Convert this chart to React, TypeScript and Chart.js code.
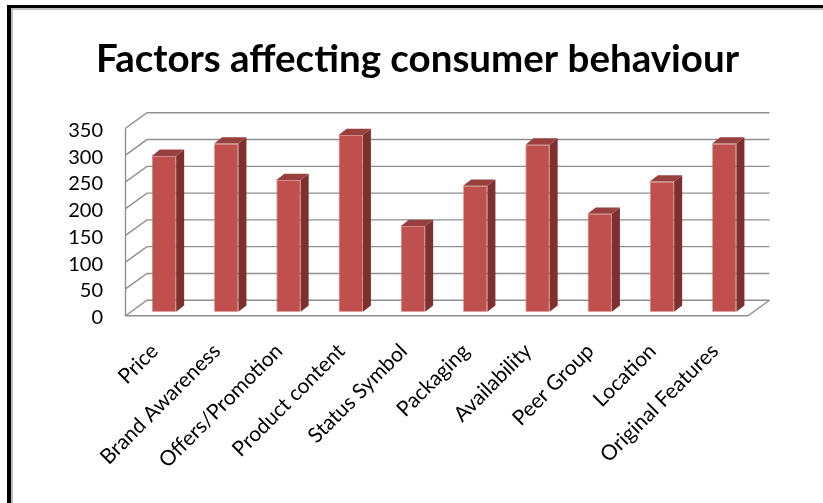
import React, { useEffect, useRef } from "react";
import { Chart, registerables } from "chart.js";

Chart.register(...registerables);

const TITLE = "Factors affecting consumer behaviour";
const categories = [
  "Price",
  "Brand Awareness",
  "Offers/Promotion",
  "Product content",
  "Status Symbol",
  "Packaging",
  "Availability",
  "Peer Group",
  "Location",
  "Original Features",
];
const values = [291, 314, 246, 330, 160, 235, 312, 183, 243, 314];
const yMin = 0;
const yMax = 350;
const yStep = 50;

const FRONT = "#C0504D";
const SIDE = "#7E302E";
const TOP = "#98403D";
const GRID = "#8F8F8F";

// wall depth (floor/back wall offset), bar placement inside depth, bar depth
const WALL_DX = 21.5;
const WALL_DY = -15.5;
const BAR_SHIFT_X = 7.4;
const BAR_SHIFT_Y = -4;
const BAR_DX = 8;
const BAR_DY = -6.3;

const depthPlugin = {
  id: "depth3d",
  beforeDatasetsDraw(chart: any) {
    const { ctx, chartArea: a, scales } = chart;
    const y = scales.y;
    ctx.save();
    ctx.strokeStyle = GRID;
    ctx.lineWidth = 1.4;
    ctx.lineCap = "butt";
    y.ticks.forEach((t: any) => {
      const py = y.getPixelForValue(t.value);
      ctx.beginPath();
      ctx.moveTo(a.left, py);
      ctx.lineTo(a.left + WALL_DX, py + WALL_DY);
      ctx.lineTo(a.right + WALL_DX, py + WALL_DY);
      ctx.stroke();
    });
    ctx.beginPath();
    ctx.moveTo(a.left, a.top);
    ctx.lineTo(a.left, a.bottom);
    ctx.lineTo(a.right, a.bottom);
    ctx.lineTo(a.right + WALL_DX, a.bottom + WALL_DY);
    ctx.stroke();
    ctx.restore();
    ctx.save();
    ctx.translate(BAR_SHIFT_X, BAR_SHIFT_Y);
  },
  afterDatasetsDraw(chart: any) {
    const { ctx } = chart;
    const meta = chart.getDatasetMeta(0);
    meta.data.forEach((bar: any) => {
      const { x, y, base, width } = bar.getProps(["x", "y", "base", "width"], true);
      const l = x - width / 2;
      const r = x + width / 2;
      ctx.fillStyle = SIDE;
      ctx.beginPath();
      ctx.moveTo(r, y);
      ctx.lineTo(r + BAR_DX, y + BAR_DY);
      ctx.lineTo(r + BAR_DX, base + BAR_DY);
      ctx.lineTo(r, base);
      ctx.closePath();
      ctx.fill();
      ctx.fillStyle = TOP;
      ctx.beginPath();
      ctx.moveTo(l, y);
      ctx.lineTo(l + BAR_DX, y + BAR_DY);
      ctx.lineTo(r + BAR_DX, y + BAR_DY);
      ctx.lineTo(r, y);
      ctx.closePath();
      ctx.fill();
    });
    ctx.restore();
  },
};

export default function App() {
  const ref = useRef<HTMLCanvasElement | null>(null);

  useEffect(() => {
    if (!ref.current) return;
    const chart = new Chart(ref.current, {
      type: "bar",
      data: {
        labels: categories,
        datasets: [
          {
            data: values,
            backgroundColor: FRONT,
            borderColor: "#D4807E",
            borderWidth: 0.8,
            barPercentage: 0.39,
            categoryPercentage: 1,
            clip: false as any,
          },
        ],
      },
      options: {
        responsive: false,
        animation: false,
        devicePixelRatio: 1,
        layout: { padding: { left: 0, right: 0, top: 0, bottom: 27.3 } },
        plugins: {
          legend: { display: false },
          tooltip: { enabled: false },
          title: {
            display: true,
            text: TITLE,
            color: "#000",
            font: { family: "Lato", size: 38.5, weight: "bold" },
            padding: { top: 25.5, bottom: 45.6 },
          },
        },
        scales: {
          x: {
            grid: { display: false, drawTicks: false },
            border: { display: false },
            ticks: {
              color: "#000",
              font: { family: "Lato", size: 21 },
              maxRotation: 45,
              minRotation: 45,
              autoSkip: false,
              padding: 23,
              labelOffset: -2,
            },
            afterFit: (s: any) => {
              s.height = 160;
            },
          },
          y: {
            min: yMin,
            max: yMax,
            grid: { display: false, drawTicks: false },
            border: { display: false },
            ticks: {
              stepSize: yStep,
              autoSkip: false,
              color: "#000",
              font: { family: "Lato", size: 20 },
              padding: 22.5,
              labelOffset: 2,
            },
            afterFit: (s: any) => {
              s.width = 113.5;
            },
          },
          yRight: {
            position: "right",
            min: yMin,
            max: yMax,
            grid: { display: false, drawTicks: false },
            border: { display: false },
            ticks: { display: false },
            afterFit: (s: any) => {
              s.width = 75;
            },
          },
        },
      },
      plugins: [depthPlugin],
    });
    return () => chart.destroy();
  }, []);

  return (
    <div
      style={{
        position: "fixed",
        left: 0,
        top: 0,
        width: 823,
        height: 503,
        background: "#fff",
        overflow: "hidden",
      }}
    >
      <div
        style={{
          position: "absolute",
          left: 7,
          top: 5,
          width: 900,
          height: 600,
          borderLeft: "4px solid #000",
          borderTop: "3px solid #000",
        }}
      />
      <div
        style={{
          position: "absolute",
          left: 11,
          top: 8,
          width: 900,
          height: 600,
          borderLeft: "2px solid #BDBDBD",
          borderTop: "2px solid #BDBDBD",
        }}
      />
      <canvas
        ref={ref}
        width={811}
        height={492}
        style={{ position: "absolute", left: 12, top: 11, width: 811, height: 492 }}
      />
    </div>
  );
}
